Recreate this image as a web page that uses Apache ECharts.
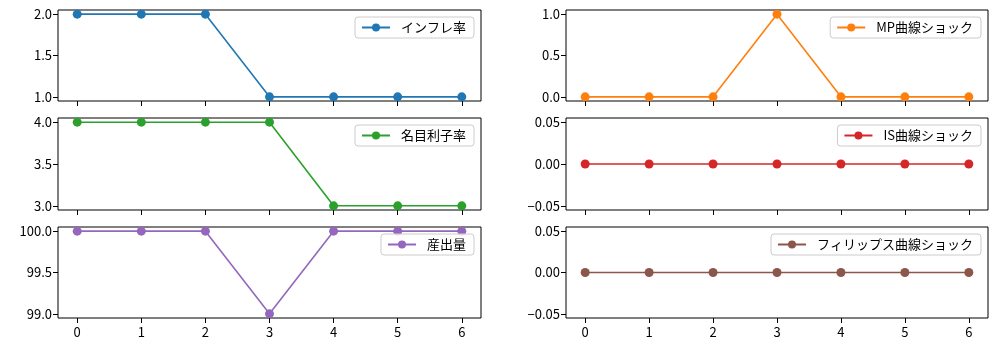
<!DOCTYPE html>
<html>
<head>
<meta charset="utf-8">
<script src="https://cdn.jsdelivr.net/npm/echarts@6/dist/echarts.min.js"></script>
<style>
  html, body { margin: 0; padding: 0; background: #fff; }
  #chart { width: 998px; height: 351px; }
</style>
</head>
<body>
<div id="chart"></div>
<script>
// periods on the x axis
const periods = [0, 1, 2, 3, 4, 5, 6]
const xTicks = [0, 1, 2, 3, 4, 5, 6]

// series values
const inflation = [2, 2, 2, 1, 1, 1, 1]
const mpShock = [0, 0, 0, 1, 0, 0, 0]
const nominalRate = [4, 4, 4, 4, 3, 3, 3]
const isShock = [0, 0, 0, 0, 0, 0, 0]
const output = [100, 100, 100, 99, 100, 100, 100]
const phillipsShock = [0, 0, 0, 0, 0, 0, 0]

// tick labels per panel
const ticksInflation = [1.0, 1.5, 2.0]
const ticksMp = [0.0, 0.5, 1.0]
const ticksRate = [3.0, 3.5, 4.0]
const ticksZero = [-0.05, 0.0, 0.05]
const ticksOutput = [99.0, 99.5, 100.0]

const FONT = '"Noto Sans CJK JP", "DejaVu Sans", sans-serif'

// panel layout: name, values, color, y range, y ticks, decimals, grid pos
const panels = [
  { name: 'インフレ率', data: inflation, color: '#1f77b4', min: 0.95, max: 2.05, ticks: ticksInflation, dec: 1, left: 58, top: 10, width: 423, height: 91, bottom: false },
  { name: 'MP曲線ショック', data: mpShock, color: '#ff7f0e', min: -0.05, max: 1.05, ticks: ticksMp, dec: 1, left: 566, top: 10, width: 422, height: 91, bottom: false },
  { name: '名目利子率', data: nominalRate, color: '#2ca02c', min: 2.95, max: 4.05, ticks: ticksRate, dec: 1, left: 58, top: 118, width: 423, height: 92, bottom: false },
  { name: 'IS曲線ショック', data: isShock, color: '#d62728', min: -0.055, max: 0.055, ticks: ticksZero, dec: 2, left: 566, top: 118, width: 422, height: 92, bottom: false },
  { name: '産出量', data: output, color: '#9467bd', min: 98.95, max: 100.05, ticks: ticksOutput, dec: 1, left: 58, top: 227, width: 423, height: 91, bottom: true },
  { name: 'フィリップス曲線ショック', data: phillipsShock, color: '#8c564b', min: -0.055, max: 0.055, ticks: ticksZero, dec: 2, left: 566, top: 227, width: 422, height: 91, bottom: true }
]

function fmt(v, dec) {
  return v.toFixed(dec).replace('-', '\u2212')
}

const grid = []
const xAxis = []
const yAxis = []
const series = []
const legend = []

panels.forEach((p, i) => {
  grid.push({
    left: p.left, top: p.top, width: p.width, height: p.height,
    show: true, borderColor: '#000', borderWidth: 1, backgroundColor: '#fff'
  })
  xAxis.push({
    type: 'value', gridIndex: i, min: -0.3, max: 6.3, position: 'bottom',
    axisLine: { show: false, onZero: false },
    splitLine: { show: false },
    axisTick: { show: true, inside: false, length: 5, lineStyle: { color: '#000' }, customValues: xTicks },
    axisLabel: {
      show: p.bottom, customValues: xTicks, color: '#000', fontSize: 13, fontFamily: FONT, margin: 8,
      formatter: v => String(v)
    }
  })
  yAxis.push({
    type: 'value', gridIndex: i, min: p.min, max: p.max, position: 'left',
    axisLine: { show: false, onZero: false },
    splitLine: { show: false },
    axisTick: { show: true, inside: false, length: 5, lineStyle: { color: '#000' }, customValues: p.ticks },
    axisLabel: {
      customValues: p.ticks, color: '#000', fontSize: 13, fontFamily: FONT, margin: 6,
      formatter: v => fmt(v, p.dec)
    }
  })
  series.push({
    name: p.name, type: 'line', xAxisIndex: i, yAxisIndex: i,
    data: periods.map((x, k) => [x, p.data[k]]),
    symbol: 'circle', symbolSize: 9, showSymbol: true,
    lineStyle: { color: p.color, width: 1.6 },
    itemStyle: { color: p.color },
    clip: false
  })
  legend.push({
    data: [p.name],
    right: 998 - p.left - p.width + 7,
    top: p.top + 7,
    orient: 'vertical',
    backgroundColor: 'rgba(255,255,255,0.8)',
    borderColor: '#cccccc', borderWidth: 1, borderRadius: 3,
    padding: [4, 8, 4, 6],
    itemWidth: 28, itemHeight: 10, itemGap: 4,
    textStyle: { color: '#000', fontSize: 13, fontFamily: FONT, padding: [0, 0, 0, 6] },
    selectedMode: false
  })
})

const chart = echarts.init(document.getElementById('chart'))
chart.setOption({
  animation: false,
  backgroundColor: '#fff',
  grid, xAxis, yAxis, series, legend
})
</script>
</body>
</html>
